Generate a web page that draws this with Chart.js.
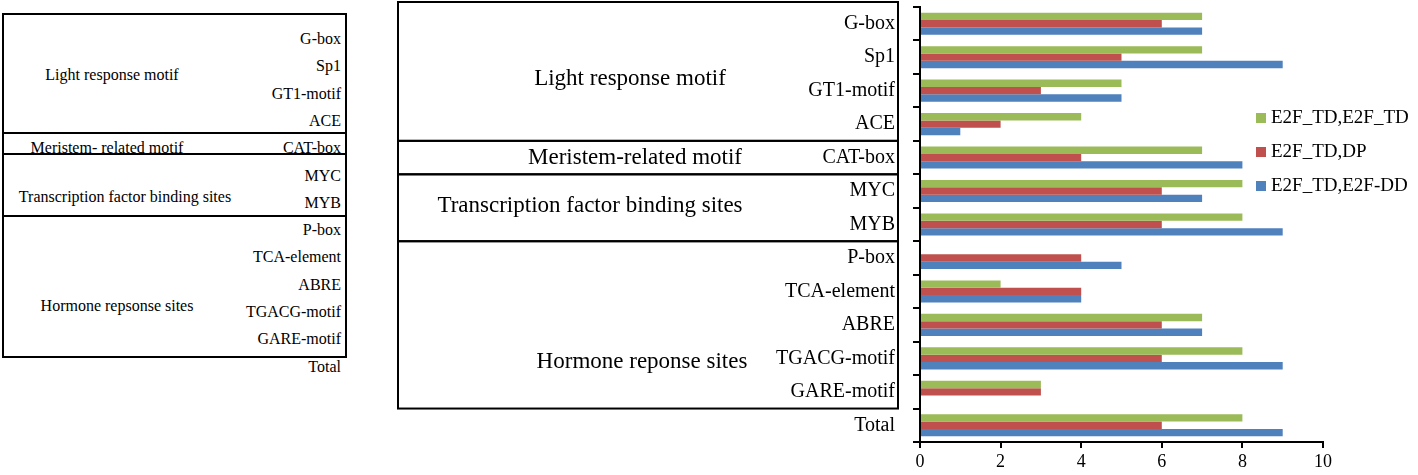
<!DOCTYPE html>
<html>
<head>
<meta charset="utf-8">
<script src="https://cdn.jsdelivr.net/npm/chart.js@4/dist/chart.umd.min.js"></script>
<style>
  html, body { margin: 0; padding: 0; background: #fff; }
  #wrap { position: relative; width: 1418px; height: 475px; overflow: hidden; }
  #c { position: absolute; left: 0; top: 0; }
  #table { position: absolute; left: 0; top: 0; width: 400px; height: 475px; font-family: "Liberation Serif", "Times New Roman", serif; font-size: 16px; color: #000; }
  .t { position: absolute; white-space: nowrap; line-height: 1; }
  .box { position: absolute; border: 2px solid #000; box-sizing: border-box; }
  .sep { position: absolute; height: 2px; background: #000; }
</style>
</head>
<body>
<div id="wrap">
  <div id="table"></div>
  <canvas id="c" width="1418" height="475"></canvas>
</div>
<script>
// ---- data ----
const categories = ['G-box','Sp1','GT1-motif','ACE','CAT-box','MYC','MYB','P-box','TCA-element','ABRE','TGACG-motif','GARE-motif','Total'];
const seriesNames = ['E2F_TD,E2F_TD','E2F_TD,DP','E2F_TD,E2F-DD'];
const tdTd = [7,7,5,4,7,8,8,0,2,7,8,3,8];
const tdDp = [6,5,3,2,4,6,6,4,4,6,6,3,6];
const tdDd = [7,9,5,1,8,7,9,5,4,7,9,0,9];
const xTicks = [0,2,4,6,8,10];
const groupNames = ['Light response motif','Meristem-related motif','Transcription factor binding sites','Hormone reponse sites'];
const tableGroupNames = ['Light response motif','Meristem- related motif','Transcription factor binding sites','Hormone repsonse sites'];
const groupFirst = [0,4,5,7];
const groupLast = [3,4,6,11];

const colors = ['#9BBB59','#C0504D','#4F81BD'];
const SERIF = '"Liberation Serif", "Times New Roman", serif';

// ---- left table (static companion panel) ----
(function buildTable(){
  const t = document.getElementById('table');
  const outer = document.createElement('div');
  outer.className = 'box';
  Object.assign(outer.style, {left:'2px', top:'13px', width:'345px', height:'345px'});
  t.appendChild(outer);
  [133, 154, 216].forEach(y => {
    const s = document.createElement('div');
    s.className = 'sep';
    Object.assign(s.style, {left:'2px', width:'345px', top:(y-1)+'px'});
    t.appendChild(s);
  });
  categories.forEach((c, i) => {
    const d = document.createElement('div');
    d.className = 't';
    d.textContent = c;
    const yc = 39 + i * 27.3;
    Object.assign(d.style, {right:'59px', top:(yc-8)+'px', textAlign:'right'});
    t.appendChild(d);
  });
  const gc = [[112, 75], [107, 148], [125, 197], [117, 306]];
  tableGroupNames.forEach((g, i) => {
    const d = document.createElement('div');
    d.className = 't';
    d.textContent = g;
    Object.assign(d.style, {left:gc[i][0]+'px', top:(gc[i][1]-8)+'px', transform:'translateX(-50%)'});
    t.appendChild(d);
  });
})();

// ---- plugins ----
const groupBoxes = {
  id: 'groupBoxes',
  afterDraw(chart) {
    const ctx = chart.ctx;
    const ys = chart.scales.y;
    const left = chart.chartArea.left - 522, right = chart.chartArea.left - 22;
    const labelX = [630, 635, 590, 642];
    const labelRow = [1.65, 4, 5.45, 10.1];
    ctx.save();
    ctx.strokeStyle = '#000';
    ctx.lineWidth = 2;
    groupNames.forEach((g, i) => {
      let top = ys.getPixelForValue(groupFirst[i] - 0.5);
      if (i === 0) top = chart.chartArea.top - 5;
      const bottom = ys.getPixelForValue(groupLast[i] + 0.5);
      ctx.strokeRect(left, top, right - left, bottom - top);
      ctx.fillStyle = '#000';
      ctx.font = '23px ' + SERIF;
      ctx.textAlign = 'center';
      ctx.textBaseline = 'middle';
      ctx.fillText(g, labelX[i], ys.getPixelForValue(labelRow[i]));
    });
    // legend
    ctx.font = '19px ' + SERIF;
    ctx.textAlign = 'left';
    ctx.textBaseline = 'middle';
    chart.data.datasets.forEach((ds, i) => {
      const y = 118 + i * 34;
      ctx.fillStyle = ds.backgroundColor;
      ctx.fillRect(1256, y - 5, 10, 10);
      ctx.fillStyle = '#000';
      ctx.fillText(ds.label, 1271, y);
    });
    ctx.restore();
  }
};

new Chart(document.getElementById('c'), {
  type: 'bar',
  data: {
    labels: categories,
    datasets: [
      { label: seriesNames[0], data: tdTd, backgroundColor: colors[0] },
      { label: seriesNames[1], data: tdDp, backgroundColor: colors[1] },
      { label: seriesNames[2], data: tdDd, backgroundColor: colors[2] }
    ]
  },
  options: {
    indexAxis: 'y',
    responsive: false,
    animation: false,
    layout: { padding: { top: 7, right: 95, bottom: 0, left: 0 } },
    datasets: { bar: { categoryPercentage: 0.66, barPercentage: 1.0, borderWidth: 0 } },
    plugins: { legend: { display: false }, tooltip: { enabled: false } },
    scales: {
      y: {
        afterFit(s) { s.width = 920; s.paddingTop = 0; s.paddingBottom = 0; },
        grid: { drawOnChartArea: false, color: '#000', lineWidth: 2, tickLength: 7 },
        border: { display: true, color: '#000', width: 2 },
        ticks: { color: '#000', font: { family: SERIF, size: 20 }, padding: 18, autoSkip: false }
      },
      x: {
        min: 0, max: 10,
        afterFit(s) { s.height = 33; s.paddingLeft = 0; s.paddingRight = 0; },
        afterBuildTicks(s) { s.ticks = xTicks.map(v => ({ value: v })); },
        grid: { drawOnChartArea: false, color: '#000', lineWidth: 2, tickLength: 6 },
        border: { display: true, color: '#000', width: 2 },
        ticks: { color: '#000', font: { family: SERIF, size: 18 }, padding: 3 }
      }
    }
  },
  plugins: [groupBoxes]
});
</script>
</body>
</html>
